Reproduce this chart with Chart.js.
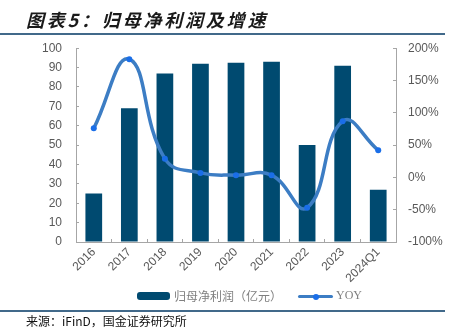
<!DOCTYPE html>
<html>
<head>
<meta charset="utf-8">
<script src="https://cdn.jsdelivr.net/npm/chart.js@4.4.1/dist/chart.umd.min.js"></script>
<style>
  html, body { margin: 0; padding: 0; background: #fff; }
  #page { position: relative; width: 458px; height: 334px; overflow: hidden; }
  .title {
    position: absolute; left: 26px; top: 6px; letter-spacing: 2.8px;
    font: italic bold 18px "Noto Sans CJK SC", sans-serif; color: #1a1a1a;
  }
  .rule { position: absolute; left: 0; width: 445px; height: 2px; background: #41698a; }
  .source {
    position: absolute; left: 26px; top: 312px;
    font: 12px "Noto Sans CJK SC", monospace; color: #111;
  }
  #chart-box { position: absolute; left: 0; top: 24px; width: 458px; height: 268px; }
  #chart-box canvas { display: block; }
  .legend { position: absolute; top: 287px; left: 0; height: 18px; font-size: 12px; color: #7f7f7f; }
  .lg-bar { position: absolute; left: 137px; top: 5px; width: 33px; height: 8px; border-radius: 3px; background: #004a70; }
  .lg-bar-txt { position: absolute; left: 174px; top: 0; white-space: nowrap; font-family: "Noto Sans CJK SC", sans-serif; }
  .lg-line { position: absolute; left: 298px; top: 8px; width: 35px; height: 3px; border-radius: 2px; background: #3c7dc4; }
  .lg-dot { position: absolute; left: 313px; top: 7px; width: 6px; height: 6px; border-radius: 3px; background: #1a6ee8; }
  .lg-line-txt { position: absolute; left: 336px; top: 1px; font-family: "Liberation Serif", serif; }
</style>
</head>
<body>
<div id="page">
  <div id="chart-box"><canvas id="profit-chart" width="458" height="268"></canvas></div>
  <div class="title">图表5：归母净利润及增速</div>
  <div class="rule" style="top:33px"></div>
  <div class="legend">
    <div class="lg-bar"></div><div class="lg-bar-txt">归母净利润（亿元）</div>
    <div class="lg-line"></div><div class="lg-dot"></div><div class="lg-line-txt">YOY</div>
  </div>
  <div class="rule" style="top:310px"></div>
  <div class="source">来源：iFinD，国金证券研究所</div>
</div>
<script>
"use strict";

const labels = ["2016", "2017", "2018", "2019", "2020", "2021", "2022", "2023", "2024Q1"];
const netProfit = [25, 69, 87, 92, 92.5, 93, 50, 91, 27];     // 亿元
const yoy = [76, 183, 29, 7, 3.5, 3.5, -47, 87, 42];           // %

const leftTicks = [0, 10, 20, 30, 40, 50, 60, 70, 80, 90, 100];
const rightTicks = [-100, -50, 0, 50, 100, 150, 200];

const axisColor = "#a6a6a6";
const tickFont = { family: "'Liberation Sans', Arial, sans-serif", size: 12 };
const tickColor = "#595959";

const ctx = document.getElementById("profit-chart").getContext("2d");

new Chart(ctx, {
  data: {
    labels: labels,
    datasets: [
      {
        type: "line",
        label: "YOY",
        data: yoy,
        yAxisID: "y1",
        order: 0,
        borderColor: "#3c7dc4",
        borderWidth: 3.5,
        tension: 0.45,
        pointRadius: 3,
        pointBackgroundColor: "#1a6ee8",
        pointBorderWidth: 0,
      },
      {
        type: "bar",
        label: "归母净利润（亿元）",
        data: netProfit,
        yAxisID: "y",
        order: 1,
        backgroundColor: "#004a70",
        categoryPercentage: 1,
        barPercentage: 0.47,
      },
    ],
  },
  options: {
    responsive: false,
    animation: false,
    maintainAspectRatio: false,
    layout: { padding: 0 },
    plugins: { legend: { display: false }, tooltip: { enabled: false } },
    scales: {
      x: {
        offset: true,
        grid: { offset: true, drawOnChartArea: false, drawTicks: true, tickLength: -3, color: axisColor },
        border: { display: true, color: axisColor },
        ticks: { font: tickFont, color: tickColor, maxRotation: 45, minRotation: 45, padding: 6, autoSkip: false },
        afterFit: (s) => { s.height = 50; },
      },
      y: {
        position: "left",
        min: 0,
        max: 100,
        afterBuildTicks: (s) => { s.ticks = leftTicks.map((v) => ({ value: v })); },
        grid: { drawOnChartArea: false, drawTicks: true, tickLength: -3, color: axisColor },
        border: { display: true, color: axisColor },
        ticks: { font: tickFont, color: tickColor, padding: 17, autoSkip: false },
        afterFit: (s) => { s.width = 76; },
      },
      y1: {
        position: "right",
        min: -100,
        max: 200,
        afterBuildTicks: (s) => { s.ticks = rightTicks.map((v) => ({ value: v })); },
        grid: { drawOnChartArea: false, drawTicks: true, tickLength: -3, color: axisColor },
        border: { display: true, color: axisColor },
        ticks: { font: tickFont, color: tickColor, padding: 15, autoSkip: false, callback: (v) => v + "%" },
        afterFit: (s) => { s.width = 62; },
      },
    },
  },
});
</script>
</body>
</html>
